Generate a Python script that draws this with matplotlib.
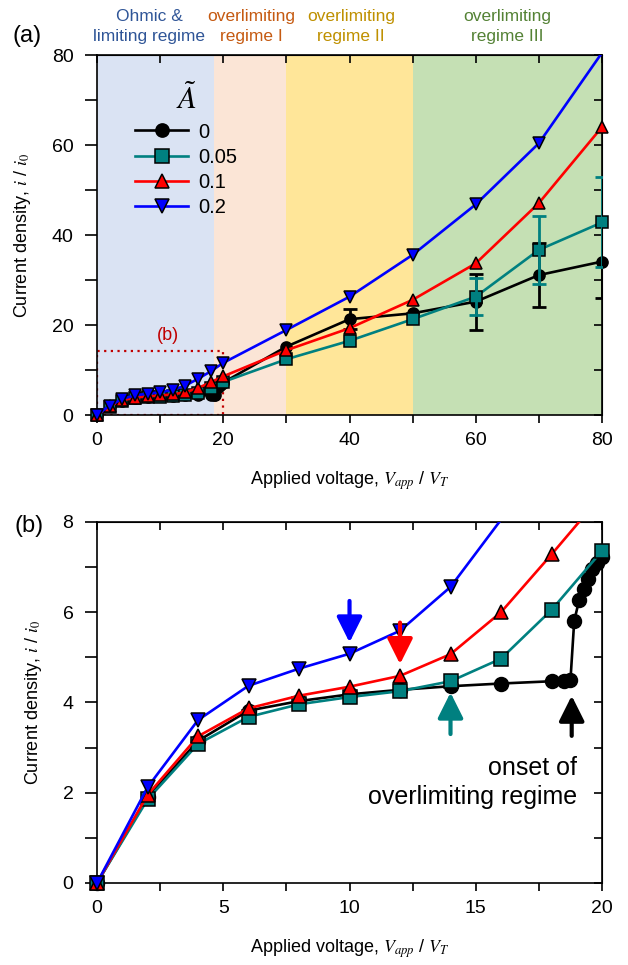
import numpy as np
import matplotlib
matplotlib.use("Agg")
import matplotlib.pyplot as plt
from matplotlib.ticker import MultipleLocator
from matplotlib.lines import Line2D
from matplotlib.patches import Rectangle
from matplotlib.transforms import blended_transform_factory

plt.rcParams['font.family'] = ['Liberation Sans', 'DejaVu Sans']
plt.rcParams['mathtext.fontset'] = 'stix'

# ---------------- data ----------------
V_black = [0, 2, 4, 6, 8, 10, 12, 14, 16, 18, 18.5, 18.75, 18.9, 19.1, 19.3, 19.45,
           19.6, 19.8, 20, 30, 40, 50, 60, 70, 80]
I_black = [0, 1.9, 3.15, 3.82, 4.03, 4.18, 4.28, 4.36, 4.42, 4.47, 4.48, 4.49, 5.81,
           6.28, 6.52, 6.74, 6.95, 7.1, 7.22, 15.2, 21.3, 22.6, 25.2, 31.1, 34.1]

V_other = [0, 2, 4, 6, 8, 10, 12, 14, 16, 18, 20, 30, 40, 50, 60, 70, 80]
I_teal = [0, 1.85, 3.08, 3.68, 3.96, 4.12, 4.25, 4.47, 4.97, 6.05, 7.36,
          12.4, 16.5, 21.3, 26.3, 36.7, 42.8]
I_red = [0, 1.95, 3.25, 3.87, 4.15, 4.35, 4.59, 5.07, 6.0, 7.28, 8.6,
         14.4, 19.3, 25.6, 33.7, 47.1, 64.0]
I_blue = [0, 2.12, 3.61, 4.37, 4.75, 5.08, 5.59, 6.56, 8.05, 9.7, 11.6,
          18.9, 26.3, 35.6, 46.8, 60.4, 80.5]

black_err_V = [40, 60, 70, 80]
black_err = [2.2, 6.2, 7.2, 8.1]
teal_err_V = [60, 70, 80]
teal_err = [4.1, 7.6, 10.0]

legend_labels = ["0", "0.05", "0.1", "0.2"]
series_colors = ["black", "#008080", "#FF0000", "#0000FF"]
series_markers = ["o", "s", "^", "v"]

region_edges = [0, 18.6, 30, 50, 80]
region_colors = ["#DAE3F3", "#FBE5D6", "#FFE699", "#C5E0B4"]
region_labels = ["Ohmic &\nlimiting regime", "overlimiting\nregime I",
                 "overlimiting\nregime II", "overlimiting\nregime III"]
region_label_colors = ["#2F5597", "#C55A11", "#BF9000", "#548235"]
region_label_x = [8.3, 24.5, 40.2, 65.0]

zoom_box = (20, 14.2)

# onset arrows (panel b): x, y_start, y_end
arrow_specs = [(10, 6.25, 5.33, "#0000FF"), (12, 5.77, 4.85, "#FF0000"),
               (14, 3.30, 4.22, "#008080"), (18.8, 3.26, 4.15, "black")]

series = [(V_black, I_black), (V_other, I_teal), (V_other, I_red), (V_other, I_blue)]

# ---------------- figure ----------------
fig = plt.figure(figsize=(6.28, 9.65), dpi=100)
ax1 = fig.add_axes([0.1545, 0.5699, 0.8041, 0.3731])
ax2 = fig.add_axes([0.1545, 0.0850, 0.8041, 0.3741])


def draw_series(ax, xmax, ymax, ms):
    for i, ((x, y), c, m) in enumerate(zip(series, series_colors, series_markers)):
        x = np.asarray(x, float)
        y = np.asarray(y, float)
        ax.plot(x, y, color=c, lw=1.9, zorder=3 + 2 * i, solid_capstyle='round')
        mask = (x <= xmax) & (y <= ymax)
        ax.plot(x[mask], y[mask], ls='none', marker=m, ms=ms, mfc=c, mec='black',
                mew=1.1, clip_on=False, zorder=4 + 2 * i)


def style_axes(ax, xmaj, xmin, ymaj, ymin):
    ax.xaxis.set_major_locator(MultipleLocator(xmaj))
    ax.xaxis.set_minor_locator(MultipleLocator(xmin))
    ax.yaxis.set_major_locator(MultipleLocator(ymaj))
    ax.yaxis.set_minor_locator(MultipleLocator(ymin))
    ax.tick_params(axis='x', which='both', direction='out', length=5.5, width=1.2,
                   labelsize=14, pad=6.5)
    ax.tick_params(axis='y', which='both', direction='out', length=8.5, width=1.2,
                   labelsize=14, pad=8.5)
    for s in ax.spines.values():
        s.set_linewidth(1.2)
    sx = ax.secondary_xaxis('top')
    sx.xaxis.set_major_locator(MultipleLocator(xmaj))
    sx.xaxis.set_minor_locator(MultipleLocator(xmin))
    sx.tick_params(which='both', direction='in', length=5.5, width=1.2, labeltop=False)
    sy = ax.secondary_yaxis('right')
    sy.yaxis.set_major_locator(MultipleLocator(ymaj))
    sy.yaxis.set_minor_locator(MultipleLocator(ymin))
    sy.tick_params(which='both', direction='in', length=5.5, width=1.2, labelright=False)
    ax.set_xlabel('Applied voltage, $V_{app}$ / $V_T$', fontsize=13, labelpad=15)
    ax.set_ylabel('Current density, $i$ / $i_0$', fontsize=13, labelpad=13)


# ---- panel (a) ----
for j in range(len(region_colors)):
    ax1.axvspan(region_edges[j], region_edges[j + 1], color=region_colors[j], lw=0, zorder=0)
trans = blended_transform_factory(ax1.transData, ax1.transAxes)
for lab, col, xp in zip(region_labels, region_label_colors, region_label_x):
    ax1.text(xp, 1.03, lab, transform=trans, ha='center', va='bottom', color=col,
             fontsize=12.5, linespacing=1.4)

ax1.add_patch(Rectangle((0, 0), zoom_box[0], zoom_box[1], fill=False,
                        ec='#C00000', lw=1.6, ls=(0, (1, 2)), zorder=2))
ax1.text(11.3, 17.6, '(b)', color='#C00000', fontsize=13, ha='center', va='center')

draw_series(ax1, 80, 80, 8)
ax1.errorbar(black_err_V, [I_black[V_black.index(v)] for v in black_err_V], yerr=black_err,
             fmt='none', ecolor='black', elinewidth=2, capsize=5, capthick=2, zorder=5)
ax1.errorbar(teal_err_V, [I_teal[V_other.index(v)] for v in teal_err_V], yerr=teal_err,
             fmt='none', ecolor='#008080', elinewidth=2, capsize=5, capthick=2, zorder=7)

ax1.set_xlim(0, 80)
ax1.set_ylim(0, 80)
style_axes(ax1, 20, 10, 20, 10)

handles = [Line2D([0], [0], color=c, lw=1.9, marker=m, ms=9.5, mfc=c, mec='black', mew=1.1)
           for c, m in zip(series_colors, series_markers)]
leg = ax1.legend(handles, legend_labels, title=r'$\tilde{A}$', loc='upper left',
                 bbox_to_anchor=(0.06, 0.94), frameon=False, fontsize=14.5,
                 title_fontsize=22, handlelength=2.6, handletextpad=0.5,
                 labelspacing=0.3, borderaxespad=0)
leg.set_zorder(20)

fig.text(27 / 628, 1 - 36 / 965, '(a)', fontsize=17, ha='center', va='center')

# ---- panel (b) ----
draw_series(ax2, 20, 8, 10)
ax2.set_xlim(0, 20)
ax2.set_ylim(0, 8)
style_axes(ax2, 5, 2.5, 2, 1)

for x, y0, y1, c in arrow_specs:
    ax2.annotate('', xy=(x, y1), xytext=(x, y0),
                 arrowprops=dict(arrowstyle='-|>,head_length=0.7,head_width=0.35',
                                 mutation_scale=22, lw=3, color=c,
                                 shrinkA=0, shrinkB=0), zorder=15)
ax2.text(19.0, 2.23, 'onset of\noverlimiting regime', ha='right', va='center',
         fontsize=18, linespacing=1.25)

fig.text(29 / 628, 1 - 526 / 965, '(b)', fontsize=17, ha='center', va='center')

fig.savefig('out.png', dpi=100)
